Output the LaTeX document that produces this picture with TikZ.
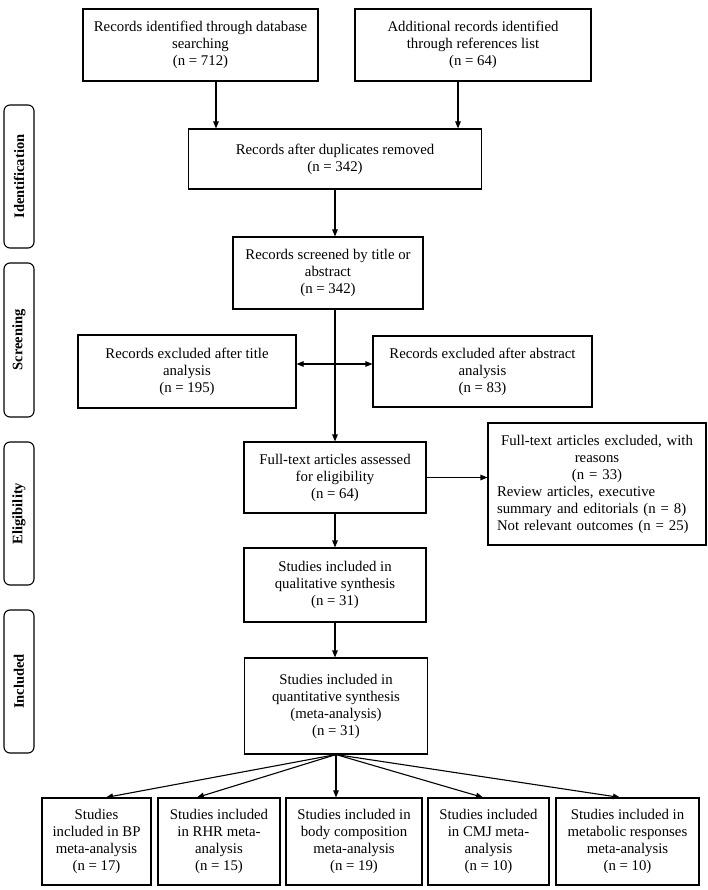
\documentclass[tikz,border=0pt]{standalone}
\usepackage{fontspec}
\setmainfont{Liberation Serif}
\usetikzlibrary{arrows.meta}

\tikzset{
  box/.style={draw, line width=1.1pt, align=center, inner sep=0pt, font=\fontsize{14.8}{17}\selectfont},
  phase/.style={draw, line width=1.1pt, rounded corners=6pt, rotate=90, minimum height=30, inner sep=0pt, font=\fontsize{14.5}{16}\selectfont\bfseries},
  arr/.style={-{Triangle[length=7pt,width=5.5pt]}, line width=1.1pt}
}

\begin{document}
\begin{tikzpicture}[x=1pt,y=-1pt]
	\useasboundingbox (0,0) rectangle (708,890);
	% phases
	\node[phase, minimum width=143] (identif) at (19,176.5) {Identification};
	\node[phase, minimum width=154] (screening) at (19,340) {Screening};
	\node[phase, minimum width=143] (eligib) at (19,513.5) {Eligibility};
	\node[phase, minimum width=143] (included) at (19,681.5) {Included};
	% boxes
	\node[box, minimum width=235, minimum height=72] (recdb) at (200.5,45) {Records identified through database\\searching\\(n = 712)};
	\node[box, minimum width=236, minimum height=72] (recref) at (473,45) {Additional records identified\\through references list\\(n = 64)};
	\node[box, minimum width=293, minimum height=60] (dedup) at (335,159) {Records after duplicates removed\\(n = 342)};
	\node[box, minimum width=190, minimum height=72] (screen) at (328,273) {Records screened by title or\\abstract\\(n = 342)};
	\node[box, minimum width=218, minimum height=73] (extitle) at (187,371.5) {Records excluded after title\\analysis\\(n = 195)};
	\node[box, minimum width=219, minimum height=71] (exabs) at (482.5,371.5) {Records excluded after abstract\\analysis\\(n = 83)};
	\node[box, minimum width=182, minimum height=71] (fulltext) at (335,477.5) {Full-text articles assessed\\for eligibility\\(n = 64)};
	\node[box, align=left, text width=200, minimum width=218, minimum height=122] (exfull) at (597,484)
		{{\centering Full-text articles excluded, with\\reasons\\(n = 33)\par}Review articles, executive\\summary and editorials (n = 8)\\Not relevant outcomes (n = 25)};
	\node[box, minimum width=182, minimum height=74] (qual) at (335,585) {Studies included in\\qualitative synthesis\\(n = 31)};
	\node[box, minimum width=183, minimum height=96] (quant) at (336,706) {Studies included in\\quantitative synthesis\\(meta-analysis)\\(n = 31)};
	\node[box, minimum width=109, minimum height=87] (bp) at (96.5,841.5) {Studies\\included in BP\\meta-analysis\\(n = 17)};
	\node[box, minimum width=122, minimum height=87] (rhr) at (219,841.5) {Studies included\\in RHR meta-\\analysis\\(n = 15)};
	\node[box, minimum width=136, minimum height=87] (body) at (354,841.5) {Studies included in\\body composition\\meta-analysis\\(n = 19)};
	\node[box, minimum width=121, minimum height=87] (cmj) at (488.5,841.5) {Studies included\\in CMJ meta-\\analysis\\(n = 10)};
	\node[box, minimum width=143, minimum height=87] (metab) at (627.5,841.5) {Studies included in\\metabolic responses\\meta-analysis\\(n = 10)};
	% arrows
	\draw[arr] ([xshift=15.5]recdb.south) -- ([xshift=15.5]recdb.south |- dedup.north);
	\draw[arr] ([xshift=-15]recref.south) -- ([xshift=-15]recref.south |- dedup.north);
	\draw[arr] (dedup.south) -- (dedup.south |- screen.north);
	\coordinate (split) at (335,364);
	\draw[arr] (screen.south -| dedup.south) -- (fulltext.north);
	\draw[arr] (split) -- (split -| extitle.east);
	\draw[arr] (split) -- (split -| exabs.west);
	\draw[arr] (fulltext.east) -- (fulltext.east -| exfull.west);
	\draw[arr] (fulltext.south) -- (qual.north);
	\draw[arr] (qual.south) -- (qual.south |- quant.north);
	\foreach \dest/\shift in {bp/9.5, rhr/-22, body/-18, cmj/-5.5, metab/-7.5}
		\draw[arr] (quant.south) -- ([xshift=\shift]\dest.north);
\end{tikzpicture}
\end{document}
